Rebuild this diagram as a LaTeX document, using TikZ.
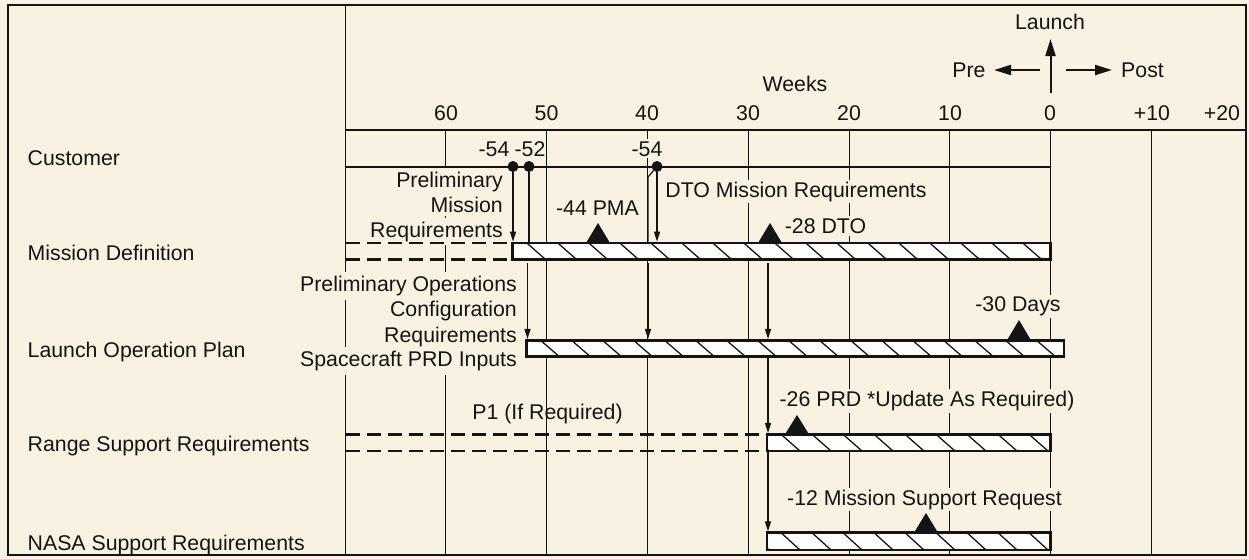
\documentclass[tikz,border=0pt]{standalone}
\usepackage{fontspec}
\setmainfont{Liberation Sans}
\usetikzlibrary{arrows.meta,calc}
\definecolor{bgc}{RGB}{249,241,226}
\definecolor{ink}{RGB}{20,20,20}
\begin{document}
\begin{tikzpicture}[x=1pt,y=-1pt,
  every node/.style={font=\fontsize{21.3pt}{25pt}\selectfont, text=ink, inner sep=0pt},
  txt/.style={anchor=base},
  mask/.style={fill=bgc, inner xsep=2pt, inner ysep=2pt},
  gridline/.style={line width=1.2pt, draw=ink},
  frameline/.style={line width=2pt, draw=ink},
  bar/.style={draw=ink, line width=2.7pt, fill=white, rectangle, inner sep=0pt,
    path picture={
      \foreach \k in {-1,...,18}{
        \draw[line width=1.3pt, ink]
          ([xshift={\k*31pt+14pt}]path picture bounding box.north west) --
          ([xshift={\k*31pt+33pt}]path picture bounding box.south west);
      }
    }},
  arr/.style={line width=1.2pt, draw=ink, -{Triangle[length=10pt,width=6pt]}},
  bigarr/.style={line width=2pt, draw=ink, -{Triangle[length=17pt,width=10pt]}},
  dashline/.style={line width=2.7pt, draw=ink, dash pattern=on 14pt off 7pt},
  custline/.style={line width=2pt, draw=ink},
  dotmark/.style={circle, fill=ink, minimum size=11pt, inner sep=0pt},
  mile/.style={fill=ink}
]
% background and bounding box
\fill[bgc] (0,0) rectangle (1249,558);
\useasboundingbox (0,0) rectangle (1249,558);

% grid
\foreach \gx in {445.5,546.5,647.5,748.5,849.5,949.5,1050.5,1151.5}{
  \draw[gridline] (\gx,130) -- (\gx,554);
}
\draw[gridline, line width=1.6pt] (345.5,5) -- (345.5,554.5);
\draw[gridline, line width=1.5pt] (345.5,130) -- (1246,130);
\draw[frameline] (7.5,5) rectangle (1246,554.5);

% header
\node[txt] (launch) at (1050,29.5) {Launch};
\node[txt] (weeks) at (795,91) {Weeks};
\node[txt] (pre) at (969,77) {Pre};
\node[txt] (post) at (1142.5,77) {Post};
\coordinate (la0) at (1050.5,93);
\coordinate (la1) at (1050.5,39);
\coordinate (pr0) at (1040,70);
\coordinate (pr1) at (994,70);
\coordinate (po0) at (1066,70);
\coordinate (po1) at (1112,70);
\draw[bigarr] (la0) -- (la1);
\draw[bigarr] (pr0) -- (pr1);
\draw[bigarr] (po0) -- (po1);
\foreach \w/\gx in {60/446,50/546.5,40/647,30/748,20/849,10/950}{
  \node[txt] (wk\w) at (\gx,120) {\w};
}
\node[txt] (wk0) at (1050,120) {0};
\node[txt] (wkp10) at (1152,120) {+10};
\node[txt] (wkp20) at (1222,120) {+20};

% row labels
\node[anchor=base west] (rcust) at (27.5,165.5) {Customer};
\node[anchor=base west] (rmd) at (27.5,260.5) {Mission Definition};
\node[anchor=base west] (rlop) at (27.5,357.5) {Launch Operation Plan};
\node[anchor=base west] (rrs) at (27.5,451.5) {Range Support Requirements};
\node[anchor=base west] (rns) at (27.5,550) {NASA Support Requirements};

% masked labels
\node[txt, mask, inner xsep=1pt] (l54a) at (494,156) {-54};
\node[txt, mask, inner xsep=1pt] (l52) at (530,156) {-52};
\node[txt, mask] (l54b) at (647,156) {-54};
\node[anchor=base east, mask, inner ysep=4pt] (pm1) at (505,187) {Preliminary};
\node[anchor=base east, mask, inner ysep=4pt] (pm2) at (505,212) {Mission};
\node[anchor=base east, mask, inner ysep=4pt] (pm3) at (505,237) {Requirements};
\node[anchor=base east, mask, inner ysep=4pt] (po1t) at (519,291.7) {Preliminary Operations};
\node[anchor=base east, mask, inner ysep=4pt] (po2t) at (519,316.7) {Configuration};
\node[anchor=base east, mask, inner ysep=4pt] (po3t) at (519,342) {Requirements};
\node[anchor=base east, mask, inner ysep=4pt] (po4t) at (519,366.7) {Spacecraft PRD Inputs};
\node[txt, mask] (dtomr) at (796,197) {DTO Mission Requirements};
\node[txt, mask] (pma) at (597.5,215) {-44 PMA};
\node[txt, mask] (dto) at (825.5,233.3) {-28 DTO};
\node[txt, mask] (days) at (1018,311.7) {-30 Days};
\node[txt, mask] (prd) at (927,406.7) {-26 PRD *Update As Required)};
\node[txt] (p1) at (547.5,419.5) {P1 (If Required)};
\node[txt, mask] (msr) at (924.5,505) {-12 Mission Support Request};

% customer line and dots
\coordinate (cl0) at (346,166.5);
\coordinate (cl1) at (1050.5,166.5);
\draw[custline] (cl0) -- (cl1);
\node[dotmark] (d1) at (513,166.5) {};
\node[dotmark] (d2) at (529,166.5) {};
\node[dotmark] (d3) at (657,166.5) {};

% dashed lead-ins
\coordinate (dm1) at (346,243);
\coordinate (dm2) at (346,259.7);
\coordinate (dr1) at (346,434.3);
\coordinate (dr2) at (346,451);

% bars
\node[bar, minimum width=537.7pt, minimum height=16.7pt] (md) at (781.65,251.35) {};
\node[bar, minimum width=537.5pt, minimum height=16.4pt] (lop) at (795.25,348.5) {};
\node[bar, minimum width=283.5pt, minimum height=16.7pt] (rs) at (908.75,442.65) {};
\node[bar, minimum width=283.5pt, minimum height=17.3pt] (ns) at (908.75,541.35) {};

\draw[dashline] (dm1) -- (dm1 -| md.west);
\draw[dashline] (dm2) -- (dm2 -| md.west);
\draw[dashline] (dr1) -- (dr1 -| rs.west);
\draw[dashline] (dr2) -- (dr2 -| rs.west);

% milestones
\fill[mile] (586,243) -- (598,223) -- (610,243) -- cycle;
\fill[mile] (758,243) -- (770,223) -- (782,243) -- cycle;
\fill[mile] (1007,340.3) -- (1019,320) -- (1031,340.3) -- cycle;
\fill[mile] (785,434.3) -- (797,415) -- (809,434.3) -- cycle;
\fill[mile] (914,532.7) -- (926,513) -- (938,532.7) -- cycle;

% connectors
\coordinate (k) at (648,177);
\coordinate (x527) at (527.5,0);
\coordinate (c28) at (768,0);
\draw[arr] (d1) -- (d1 |- md.north);
\draw[line width=1.2pt, ink] (d2) -- (d2 |- md.north);
\draw[arr] (d3) -- (d3 |- md.north);
\draw[line width=1.2pt, ink] (d3) -- (k) -- (k |- md.north);
\draw[arr, shorten <=2pt] (x527 |- md.south) -- (x527 |- lop.north);
\draw[arr, shorten <=2pt] (k |- md.south) -- (k |- lop.north);
\draw[arr, shorten <=2pt] (c28 |- md.south) -- (c28 |- lop.north);
\draw[arr] (c28 |- lop.south) -- (c28 |- rs.north);
\draw[arr] (c28 |- rs.south) -- (c28 |- ns.north);
\end{tikzpicture}
\end{document}
